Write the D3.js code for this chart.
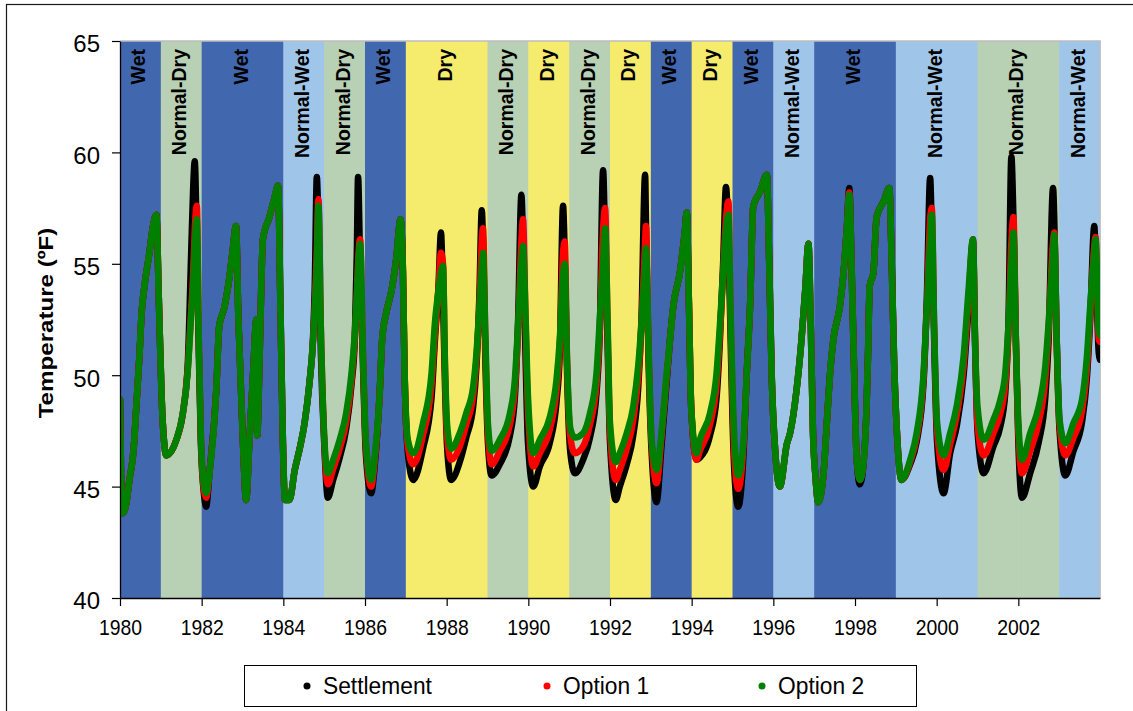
<!DOCTYPE html>
<html><head><meta charset="utf-8">
<script src="https://cdn.jsdelivr.net/npm/d3@7"></script>
<style>
body{margin:0;background:#fff}
svg{display:block}
text{font-family:"Liberation Sans",Arial,Helvetica,sans-serif}
</style>
</head><body>
<svg id="chart" width="1133" height="711"></svg>
<script>
// ---------------- data ----------------
const firstYear = 1980;
const yearTypes = ["Wet","Normal-Dry","Wet","Wet","Normal-Wet","Normal-Dry","Wet","Dry","Dry","Normal-Dry",
  "Dry","Normal-Dry","Dry","Wet","Dry","Wet","Normal-Wet","Wet","Wet","Normal-Wet",
  "Normal-Wet","Normal-Dry","Normal-Dry","Normal-Wet"];
const xTickYears = [1980,1982,1984,1986,1988,1990,1992,1994,1996,1998,2000,2002];
const yTicks = [40,45,50,55,60,65];
const seriesNames = ["Settlement","Option 1","Option 2"];

const dates = [
  1980.00,1980.03,1980.07,1980.15,1980.23,1980.33,1980.40,1980.48,1980.53,1980.60,1980.72,1980.80,1980.89,1980.95,
  1981.02,1981.08,1981.13,1981.38,1981.54,1981.66,1981.74,1981.79,1981.83,1981.88,1981.93,1981.98,
  1982.06,1982.11,1982.19,1982.36,1982.43,1982.55,1982.68,1982.76,1982.84,1982.90,
  1983.00,1983.09,1983.17,1983.26,1983.34,1983.36,1983.41,1983.46,1983.50,1983.66,1983.79,1983.87,1983.93,1983.99,
  1984.04,1984.15,1984.28,1984.40,1984.52,1984.64,1984.73,1984.77,1984.82,1984.86,1984.92,
  1985.00,1985.09,1985.22,1985.38,1985.54,1985.67,1985.75,1985.80,1985.83,1985.88,1985.95,
  1986.02,1986.15,1986.24,1986.36,1986.42,1986.52,1986.65,1986.77,1986.87,1986.93,1986.97,
  1987.05,1987.18,1987.42,1987.63,1987.71,1987.80,1987.86,1987.91,1987.96,
  1988.01,1988.11,1988.32,1988.48,1988.65,1988.73,1988.80,1988.86,1988.89,1988.95,
  1989.01,1989.10,1989.30,1989.55,1989.67,1989.75,1989.83,1989.87,1989.93,1989.99,
  1990.12,1990.28,1990.53,1990.69,1990.77,1990.85,1990.89,1990.95,
  1991.03,1991.14,1991.34,1991.51,1991.67,1991.75,1991.83,1991.88,1991.94,
  1992.00,1992.14,1992.24,1992.41,1992.57,1992.69,1992.77,1992.86,1992.88,1992.94,
  1993.02,1993.14,1993.26,1993.39,1993.47,1993.55,1993.71,1993.83,1993.88,1993.93,1993.99,
  1994.12,1994.20,1994.45,1994.61,1994.69,1994.77,1994.84,1994.90,1994.95,
  1995.00,1995.05,1995.14,1995.27,1995.35,1995.43,1995.51,1995.67,1995.84,1995.90,1995.96,
  1996.05,1996.16,1996.33,1996.41,1996.57,1996.69,1996.78,1996.86,1996.92,1996.97,
  1997.03,1997.10,1997.23,1997.31,1997.39,1997.47,1997.63,1997.72,1997.80,1997.86,1997.92,1997.96,
  1998.00,1998.04,1998.12,1998.22,1998.28,1998.32,1998.36,1998.45,1998.53,1998.70,1998.84,1998.90,1998.96,
  1999.04,1999.14,1999.35,1999.51,1999.68,1999.76,1999.84,1999.88,1999.94,
  2000.01,2000.17,2000.33,2000.49,2000.66,2000.78,2000.89,2000.94,
  2001.00,2001.15,2001.39,2001.56,2001.68,2001.76,2001.83,2001.88,2001.94,
  2002.00,2002.09,2002.29,2002.50,2002.66,2002.74,2002.85,2002.88,2002.94,
  2003.01,2003.15,2003.35,2003.56,2003.68,2003.76,2003.86,2003.89,2003.97,2004.00
];

const settlement = [
  48.9,45.0,43.8,44.2,45.3,46.6,48.6,51.0,52.8,54.0,55.5,56.6,57.2,53.5,
  49.0,47.0,46.4,47.1,48.3,50.5,55.3,58.3,59.6,56.0,51.0,47.0,
  44.6,44.1,45.6,49.4,52.2,53.0,54.4,55.6,56.7,52.5,
  47.5,44.4,47.1,50.1,52.5,47.3,50.1,54.0,56.1,57.1,58.0,58.5,53.0,47.0,
  44.4,44.4,45.75,46.7,47.85,49.65,51.8,54.0,58.9,56.5,51.0,
  47.0,44.5,45.3,46.3,47.6,49.6,51.6,55.5,58.9,55.0,50.5,
  46.5,44.7,46.0,49.2,51.6,52.8,53.8,55.3,57.0,54.6,50.1,
  46.5,45.3,46.7,49.0,51.5,54.0,56.4,53.5,49.5,
  46.8,45.3,46.1,47.2,48.6,50.4,53.5,57.4,56.0,50.5,
  47.0,45.5,46.0,47.3,49.0,52.5,58.1,56.0,51.0,47.0,
  45.0,45.9,47.0,48.8,51.0,57.6,55.5,50.0,
  46.5,45.6,46.2,47.2,49.2,52.0,59.2,56.0,51.5,
  47.0,44.4,45.0,46.0,47.3,49.4,52.5,59.0,57.0,51.0,
  46.5,44.3,46.8,49.8,51.6,53.1,54.6,56.4,57.3,53.5,48.5,
  46.2,46.3,47.3,49.0,51.5,55.0,58.45,56.0,52.0,
  48.0,45.5,44.1,46.5,50.1,53.1,57.6,58.2,59.0,55.0,50.0,
  46.5,45.0,46.9,47.4,49.35,51.6,53.8,55.9,52.0,47.5,
  45.5,44.3,45.6,47.85,50.1,51.6,53.1,54.6,56.6,58.4,54.6,51.6,
  48.6,46.3,45.1,46.3,48.4,51.0,54.0,54.6,57.1,57.8,58.4,55.0,50.5,
  47.0,45.3,46.0,47.0,49.7,53.5,58.85,56.5,51.5,
  47.0,44.7,46.5,47.7,50.0,53.0,56.0,51.5,
  47.5,45.6,46.8,47.7,49.2,52.5,59.8,57.0,51.5,
  47.0,44.5,45.6,47.0,49.0,51.5,58.4,57.0,51.5,
  47.5,45.5,46.6,47.9,49.9,52.5,56.7,55.5,51.0,50.7
];

const option1 = [
  48.9,45.0,43.8,44.2,45.3,46.6,48.6,51.0,52.8,54.0,55.5,56.6,57.2,53.5,
  49.0,47.0,46.4,47.1,48.3,50.3,52.8,54.5,56.5,57.6,51.6,47.3,
  44.8,44.5,45.6,49.4,52.2,53.0,54.4,55.6,56.7,52.5,
  47.5,44.4,47.1,50.1,52.5,47.3,50.1,54.0,56.1,57.1,58.0,58.5,53.0,47.0,
  44.4,44.4,45.75,46.7,47.85,49.65,51.6,53.1,55.5,57.9,52.0,
  47.2,45.1,45.8,46.7,47.9,49.8,51.7,53.5,55.0,56.1,51.0,
  46.9,45.0,46.2,49.2,51.6,52.8,53.8,55.3,57.0,54.6,50.1,
  46.8,46.0,47.3,49.6,51.8,53.8,55.5,55.0,50.2,
  47.3,46.2,46.8,47.8,49.1,50.7,53.0,56.0,56.6,51.2,
  47.5,46.0,46.6,47.8,49.4,52.0,56.0,57.0,52.5,48.5,
  45.9,46.5,47.6,49.3,51.2,55.5,56.0,50.5,
  47.2,46.5,46.8,47.8,49.6,52.0,56.5,57.5,52.2,
  47.5,45.3,45.75,46.7,48.0,49.9,52.2,56.0,56.7,51.5,
  47.0,45.15,47.2,50.0,51.6,53.1,54.6,56.4,57.3,53.5,48.5,
  46.2,46.6,47.8,49.6,51.8,54.5,57.0,57.8,52.8,
  49.0,46.2,44.9,46.9,50.1,53.1,57.6,58.2,59.0,55.0,50.0,
  46.5,45.0,46.9,47.4,49.35,51.6,53.8,55.9,52.0,47.5,
  45.5,44.3,45.6,47.85,50.1,51.6,53.1,54.6,56.6,58.2,54.6,51.6,
  48.6,46.3,45.3,46.3,48.4,51.0,54.0,54.6,57.1,57.8,58.4,55.0,50.5,
  47.0,45.3,46.1,47.2,49.9,53.0,57.0,57.5,52.0,
  47.5,45.75,46.9,48.2,50.4,53.4,56.1,51.6,
  47.8,46.4,47.4,48.3,49.6,52.0,56.0,57.1,51.6,
  47.5,45.6,46.6,47.9,49.8,52.0,56.0,56.4,51.6,
  47.8,46.4,47.2,48.4,50.3,52.7,55.8,56.2,51.6,51.5
];

const option2 = [
  48.9,45.0,43.8,44.2,45.3,46.6,48.6,51.0,52.8,54.0,55.5,56.6,57.2,53.5,
  49.0,47.0,46.4,47.1,48.3,50.2,52.6,54.0,55.8,57.0,51.6,47.3,
  45.0,44.7,45.6,49.4,52.2,53.0,54.4,55.6,56.7,52.5,
  47.5,44.4,47.1,50.1,52.5,47.3,50.1,54.0,56.1,57.1,58.0,58.5,53.0,47.0,
  44.4,44.4,45.75,46.7,47.85,49.65,51.6,53.0,55.0,57.6,52.0,
  47.3,45.6,46.2,47.1,48.3,50.1,51.9,53.6,54.8,55.9,51.0,
  47.1,45.3,46.4,49.2,51.6,52.8,53.8,55.3,57.0,54.6,50.1,
  47.1,46.5,47.85,50.1,52.3,53.8,54.6,54.9,50.4,
  47.8,46.7,47.4,48.3,49.5,51.0,53.0,54.8,55.5,51.6,
  47.85,46.6,47.1,48.3,49.8,52.3,55.0,55.8,52.8,49.1,
  46.5,47.1,48.15,49.8,51.6,54.5,55.0,50.5,
  47.6,47.2,47.4,48.3,50.1,52.5,55.0,56.6,52.5,
  47.85,46.1,46.5,47.4,48.6,50.4,52.3,55.0,55.7,51.6,
  47.1,45.75,47.4,50.1,51.6,53.1,54.6,56.4,57.3,53.5,48.5,
  46.5,47.1,48.3,50.1,52.2,54.6,56.5,57.2,53.0,
  49.5,47.0,45.5,47.1,50.1,53.1,57.6,58.2,59.0,55.0,50.0,
  46.5,45.0,46.9,47.4,49.35,51.6,53.8,55.9,52.0,47.5,
  45.5,44.3,45.6,47.85,50.1,51.6,53.1,54.6,56.6,58.1,54.6,51.6,
  48.6,46.3,45.3,46.3,48.4,51.0,54.0,54.6,57.1,57.8,58.4,55.0,50.5,
  47.0,45.3,46.2,47.4,50.1,53.0,56.0,57.2,52.0,
  47.9,46.4,47.4,48.6,50.85,53.8,56.1,51.6,
  48.6,47.1,48.0,48.9,50.1,52.3,55.0,56.4,51.6,
  47.9,46.2,47.4,48.6,50.4,52.3,55.5,56.3,51.6,
  48.0,46.95,47.85,48.9,50.85,53.1,55.5,56.1,52.0,51.8
];

// ---------------- styles / layout ----------------
const typeColors = {"Wet":"#4167AF","Normal-Wet":"#9FC5E8","Normal-Dry":"#B8D0B4","Dry":"#F5EC6E"};
const seriesColors = ["#000000","#FF0000","#008000"];
const legendDotX = [307,547,762];
const W = 1133, H = 711;
const plot = {left:120, right:1100, top:41, bottom:598};

const svg = d3.select("#chart");
svg.append("rect").attr("width",W).attr("height",H).attr("fill","#fff");
svg.append("rect").attr("x",6.5).attr("y",4.5).attr("width",W+20).attr("height",H+20)
  .attr("fill","none").attr("stroke","#1a1a1a").attr("stroke-width",1.2);

const x = d3.scaleLinear().domain([firstYear, firstYear + yearTypes.length]).range([plot.left, plot.right]);
const y = d3.scaleLinear().domain([40,65]).range([plot.bottom, plot.top]);

// bands
svg.append("g").selectAll("rect").data(yearTypes).join("rect")
  .attr("x",(d,i)=>x(firstYear+i))
  .attr("width",(d,i)=>x(firstYear+i+1)-x(firstYear+i)+0.5)
  .attr("y",plot.top).attr("height",plot.bottom-plot.top)
  .attr("fill",d=>typeColors[d]);

// group consecutive types for labels
const runs = [];
yearTypes.forEach((t,i)=>{
  const last = runs[runs.length-1];
  if (last && last.type===t) last.end = firstYear+i+1;
  else runs.push({type:t,start:firstYear+i,end:firstYear+i+1});
});
svg.append("g").selectAll("text").data(runs).join("text")
  .attr("transform",d=>`translate(${(x(d.start)+x(d.end))/2+5},${plot.top+8}) rotate(-90)`)
  .attr("text-anchor","end")
  .attr("font-size",19.5).attr("font-weight","bold").attr("fill","#000")
  .text(d=>d.type);

// plot border (top/right)
svg.append("path")
  .attr("d",`M${plot.left},${plot.top}H${plot.right}V${plot.bottom}`)
  .attr("fill","none").attr("stroke","#BDBDBD").attr("stroke-width",1.5);

// series lines
const seriesValues = [settlement, option1, option2];
const line = d3.line().x(d=>x(d[0])).y(d=>y(d[1])).curve(d3.curveMonotoneX);
svg.append("clipPath").attr("id","pc").append("rect")
  .attr("x",plot.left).attr("y",plot.top-10).attr("width",plot.right-plot.left).attr("height",plot.bottom-plot.top+10);
const gS = svg.append("g").attr("clip-path","url(#pc)");
seriesValues.forEach((vals,k)=>{
  const pts = dates.map((t,i)=>[t, vals[i]]);
  gS.append("path").datum(pts).attr("d",line)
    .attr("fill","none").attr("stroke",seriesColors[k])
    .attr("stroke-width",6.5).attr("stroke-linejoin","round").attr("stroke-linecap","round");
});

// axes
const yAxis = svg.append("g").attr("transform",`translate(${plot.left},0)`)
  .call(d3.axisLeft(y).tickValues(yTicks).tickSize(8).tickSizeOuter(0).tickPadding(12));
yAxis.select(".domain").attr("stroke","#000").attr("stroke-width",1.3);
yAxis.selectAll(".tick line").attr("stroke","#000").attr("stroke-width",1.2);
yAxis.selectAll("text").attr("font-size",24).attr("font-family","'Liberation Sans',Arial,sans-serif")
  .attr("fill","#000").attr("dy","0.45em");

const xAxis = svg.append("g").attr("transform",`translate(0,${plot.bottom})`)
  .call(d3.axisBottom(x).tickValues(xTickYears).tickFormat(d3.format("d")).tickSize(8).tickSizeOuter(0).tickPadding(13));
xAxis.select(".domain").attr("stroke","#000").attr("stroke-width",1.3);
xAxis.selectAll(".tick line").attr("stroke","#000").attr("stroke-width",1.2);
xAxis.selectAll("text").attr("font-size",22).attr("font-family","'Liberation Sans',Arial,sans-serif")
  .attr("fill","#000").attr("transform","scale(0.88,1)");

// y title
svg.append("text")
  .attr("transform",`translate(53,323) rotate(-90) scale(1.15,1)`)
  .attr("text-anchor","middle").attr("font-size",21).attr("font-weight","bold")
  .text("Temperature (ºF)");

// legend
const lg = svg.append("g");
lg.append("rect").attr("x",244.5).attr("y",665.5).attr("width",672).attr("height",41)
  .attr("fill","#fff").attr("stroke","#000").attr("stroke-width",1);
seriesNames.forEach((n,k)=>{
  lg.append("circle").attr("cx",legendDotX[k]).attr("cy",686).attr("r",3.5).attr("fill",seriesColors[k]);
  lg.append("text").attr("transform",`translate(${legendDotX[k]+16},694) scale(0.95,1)`)
    .attr("font-size",24).attr("fill","#000").text(n);
});
</script>
</body></html>
